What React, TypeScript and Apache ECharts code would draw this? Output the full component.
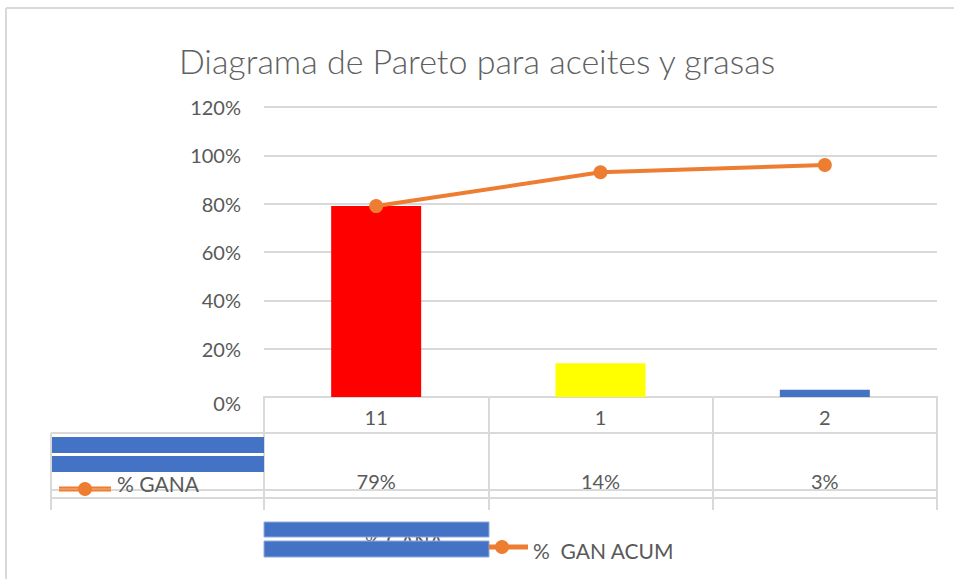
import React, { useEffect, useRef } from "react";
import * as echarts from "echarts";

const categories = ["11", "1", "2"];
const ganaPct = [79, 14, 3];
const acumPct = [79, 93, 96];
const barColors = ["#ff0000", "#ffff00", "#4472c4"];
const yMin = 0;
const yMax = 120;
const yStep = 20;
const titleText = "Diagrama de Pareto para aceites y grasas";
const barName = "% GANA";
const lineName = "%  GAN ACUM";

const FONT = "Lato";
const GRAY = "#595959";
const GRID = "#d9d9d9";
const ORANGE = "#ed7d31";
const BLUE = "#4472c4";
const FS = 20;

export default function App() {
  const ref = useRef<HTMLDivElement>(null);
  useEffect(() => {
    if (!ref.current) return;
    const chart = echarts.init(ref.current, null, { renderer: "svg" });
    const line = (x1: number, y1: number, x2: number, y2: number, w = 2, c = GRID, z = 1) => ({
      type: "line",
      shape: { x1, y1, x2, y2 },
      style: { stroke: c, lineWidth: w },
      z,
      silent: true,
    });
    chart.setOption({
      animation: false,
      backgroundColor: "#ffffff",
      title: {
        text: titleText,
        left: "center",
        top: 38,
        textStyle: { fontFamily: FONT, fontSize: 34, fontWeight: 300, color: "#606060" },
      },
      grid: { left: 264, right: 17, top: 107, bottom: 182 },
      xAxis: [
        {
          type: "category",
          data: categories,
          axisLine: { lineStyle: { color: GRID, width: 2 } },
          axisTick: { show: true, length: 113, lineStyle: { color: GRID, width: 2 } },
          axisLabel: { margin: 10, fontSize: FS, color: GRAY, fontFamily: FONT },
        },
        {
          type: "category",
          position: "bottom",
          offset: 0,
          data: ganaPct.map((v) => v + "%"),
          axisLine: { show: false },
          axisTick: { show: false },
          axisLabel: { margin: 74, fontSize: FS, color: GRAY, fontFamily: FONT },
        },
      ],
      yAxis: {
        type: "value",
        min: yMin,
        max: yMax,
        interval: yStep,
        axisLine: { show: false },
        axisTick: { show: false },
        axisLabel: {
          formatter: (v: number) => (v === 0 ? "{z|0%}" : v + "%"),
          margin: 23,
          fontSize: FS,
          color: GRAY,
          fontFamily: FONT,
          rich: { z: { fontSize: FS, color: GRAY, fontFamily: FONT, padding: [12, 0, 0, 0] } },
        },
        splitLine: { lineStyle: { color: GRID, width: 2 } },
      },
      series: [
        {
          type: "bar",
          name: barName,
          xAxisIndex: 0,
          barWidth: 90,
          data: ganaPct.map((v, i) => ({ value: v, itemStyle: { color: barColors[i] } })),
        },
        {
          type: "line",
          name: lineName,
          xAxisIndex: 0,
          data: acumPct,
          symbol: "circle",
          symbolSize: 14,
          lineStyle: { color: ORANGE, width: 4 },
          itemStyle: { color: ORANGE },
          z: 5,
        },
      ],
      graphic: [
        line(6, 8, 954, 8),
        line(6, 8, 6, 579),
        line(51, 433, 937, 433),
        line(51, 490, 937, 490),
        line(51, 498, 937, 498),
        line(51, 433, 51, 510),
        { type: "rect", shape: { x: 52, y: 437, width: 212, height: 16 }, style: { fill: BLUE }, z: 3 },
        { type: "rect", shape: { x: 52, y: 456, width: 212, height: 16 }, style: { fill: BLUE }, z: 3 },
        line(59, 489, 111, 489, 5, ORANGE, 4),
        line(59, 489, 111, 489, 1, "#f4b183", 4),
        { type: "circle", shape: { cx: 85, cy: 489, r: 7 }, style: { fill: ORANGE }, z: 5 },
        {
          type: "text",
          x: 117,
          y: 483,
          style: { text: barName, fontFamily: FONT, fontSize: FS + 1, fill: GRAY, verticalAlign: "middle" },
          z: 5,
        },
        {
          type: "text",
          x: 365,
          y: 540,
          style: { text: barName, fontFamily: FONT, fontSize: FS, fill: GRAY, verticalAlign: "middle" },
          z: 2,
        },
        { type: "rect", shape: { x: 264, y: 522, width: 225, height: 15 }, style: { fill: BLUE, stroke: "#8faadc", lineWidth: 1 }, z: 3 },
        { type: "rect", shape: { x: 264, y: 541, width: 225, height: 16 }, style: { fill: BLUE, stroke: "#8faadc", lineWidth: 1 }, z: 3 },
        line(489, 547, 528, 547, 5, ORANGE, 4),
        { type: "circle", shape: { cx: 502, cy: 547, r: 7 }, style: { fill: ORANGE }, z: 5 },
        {
          type: "text",
          x: 533,
          y: 550,
          style: { text: lineName, fontFamily: FONT, fontSize: FS + 1, fill: GRAY, verticalAlign: "middle" },
          z: 5,
        },
      ],
    });
    return () => chart.dispose();
  }, []);
  return (
    <div
      ref={ref}
      style={{ position: "absolute", left: 0, top: 0, width: 954, height: 579, background: "#fff" }}
    />
  );
}
